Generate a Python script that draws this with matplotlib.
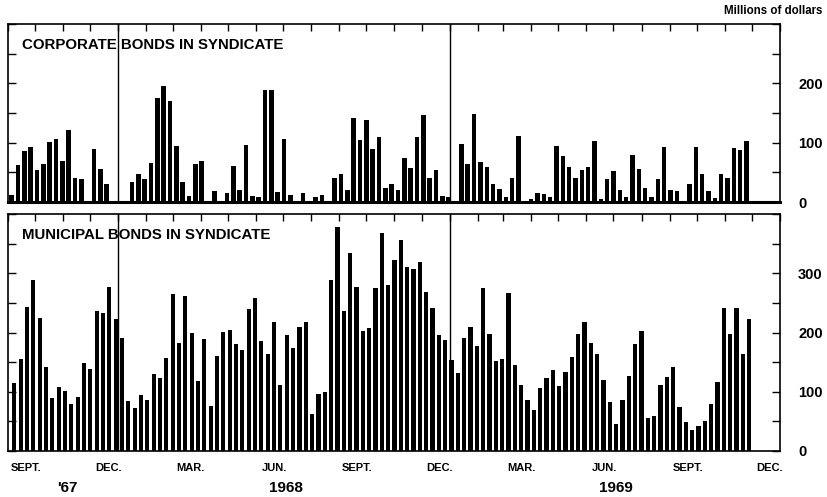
import matplotlib

matplotlib.use("Agg")
import matplotlib.pyplot as plt
import matplotlib.dates as mdates
from matplotlib.ticker import FixedLocator, MultipleLocator, NullFormatter
import pandas as pd

# ----------------------------------------------------------------------
# Data (weekly, millions of dollars)
# ----------------------------------------------------------------------
corporate = [
    12, 62, 86, 93, 54, 64, 101, 106, 69, 122, 41, 39, 0, 89, 55, 30,
    0, 0, 0, 34, 47, 39, 65, 176, 196, 170, 95, 33, 10, 64, 69, 0,
    19, 0, 16, 61, 20, 96, 10, 8, 189, 189, 17, 106, 12, 0, 16, 0,
    8, 12, 0, 41, 48, 20, 142, 104, 138, 90, 110, 24, 30, 20, 74, 58,
    109, 147, 40, 54, 10, 9, 0, 98, 64, 149, 68, 59, 30, 22, 8, 41,
    112, 0, 5, 15, 13, 8, 94, 78, 59, 41, 54, 59, 103, 5, 38, 52,
    20, 9, 79, 56, 24, 8, 38, 93, 21, 18, 0, 30, 92, 47, 18, 6,
    48, 40, 91, 88, 103,
]
municipal = [
    114, 156, 243, 289, 224, 142, 89, 108, 102, 79, 91, 148, 139, 236, 233, 277,
    222, 191, 84, 72, 94, 86, 130, 124, 157, 265, 182, 262, 200, 118, 189, 76,
    160, 201, 205, 181, 170, 240, 258, 185, 164, 218, 111, 195, 173, 209, 217, 62,
    97, 100, 288, 378, 237, 334, 277, 202, 208, 275, 368, 281, 323, 356, 310, 308,
    319, 268, 241, 195, 187, 154, 131, 191, 209, 177, 275, 197, 152, 156, 267, 145,
    112, 86, 69, 107, 124, 136, 110, 134, 159, 198, 217, 182, 164, 119, 82, 45,
    86, 127, 181, 203, 55, 59, 111, 125, 142, 74, 49, 36, 42, 50, 80, 117,
    242, 198, 242, 164, 223,
]
corp_start = "1967-09-05"
muni_start = "1967-09-08"

month_labels = ["SEPT.", "DEC.", "MAR.", "JUN.", "SEPT.", "DEC.", "MAR.", "JUN.", "SEPT.", "DEC."]
month_starts = ["1967-09-01", "1967-12-01", "1968-03-01", "1968-06-01", "1968-09-01",
                "1968-12-01", "1969-03-01", "1969-06-01", "1969-09-01", "1969-12-01"]
year_labels = ["'67", "1968", "1969"]
year_pos = ["1967-11-06", "1968-07-04", "1969-07-04"]
divider_dates = ["1968-01-01", "1969-01-01"]
data_end = "1969-12-01"

FONT = "Liberation Sans"

corp_dates = pd.date_range(corp_start, periods=len(corporate), freq="7D")
muni_dates = pd.date_range(muni_start, periods=len(municipal), freq="7D")
xmin, xmax = pd.Timestamp("1967-09-01"), pd.Timestamp("1970-01-01")

W, H = 827, 497
fig = plt.figure(figsize=(W / 100, H / 100), dpi=100)
ax_c = fig.add_axes([8 / W, 1 - 202 / H, 772 / W, 178 / H])
ax_m = fig.add_axes([8 / W, 1 - 451 / H, 772 / W, 237 / H])


def style_panel(ax, top, majors, title, title_y):
    ax.set_xlim(xmin, xmax)
    ax.set_ylim(0, top)
    for d in divider_dates:
        ax.axvline(pd.Timestamp(d), color="black", linewidth=1.0, zorder=1)

    # monthly ticks along the top edge, a single end marker at the bottom
    ax.xaxis.set_major_locator(mdates.MonthLocator())
    ax.xaxis.set_minor_locator(FixedLocator([mdates.date2num(pd.Timestamp(data_end))]))
    ax.xaxis.set_major_formatter(NullFormatter())
    ax.xaxis.set_minor_formatter(NullFormatter())
    ax.tick_params(axis="x", which="major", top=True, bottom=False, direction="in",
                   length=5, width=1.0, color="black")
    ax.tick_params(axis="x", which="minor", top=False, bottom=True, direction="in",
                   length=8, width=1.0, color="black")

    ax.yaxis.set_major_locator(FixedLocator(majors))
    ax.yaxis.set_minor_locator(MultipleLocator(50))
    ax.tick_params(axis="y", which="both", left=True, right=True, direction="in",
                   length=6, width=1.0, labelleft=False, labelright=True, pad=13)
    for lab in ax.get_yticklabels():
        lab.set_fontfamily(FONT)
        lab.set_fontweight("bold")
        lab.set_fontsize(10.5)

    for sp in ax.spines.values():
        sp.set_linewidth(1.2)
        sp.set_color("black")

    ax.text(0.018, title_y, title, transform=ax.transAxes, ha="left", va="center",
            fontsize=10.8, fontweight="bold", family=FONT, zorder=5)


ax_c.bar(corp_dates, corporate, width=5.0, color="black", linewidth=0, zorder=2)
ax_m.bar(muni_dates, municipal, width=4.6, color="black", linewidth=0, zorder=2)

style_panel(ax_c, 300, [0, 100, 200], "CORPORATE BONDS IN SYNDICATE", 0.882)
style_panel(ax_m, 400, [0, 100, 200, 300], "MUNICIPAL BONDS IN SYNDICATE", 0.911)
ax_c.spines["bottom"].set_linewidth(2.2)

xf = ax_m.get_xaxis_transform()
for lab, d in zip(month_labels, month_starts):
    ax_m.text(pd.Timestamp(d) + pd.Timedelta(days=20), -0.07, lab, transform=xf,
              ha="center", va="center", fontsize=8, fontweight="bold", family=FONT,
              clip_on=False)
for lab, d in zip(year_labels, year_pos):
    ax_m.text(pd.Timestamp(d), -0.157, lab, transform=xf, ha="center", va="center",
              fontsize=11, fontweight="bold", family=FONT, clip_on=False)

fig.text(0.994, 1 - 11 / H, "Millions of dollars", ha="right", va="center",
         fontsize=8.3, fontweight="bold", family=FONT)

fig.savefig("out.png", dpi=100, facecolor="white")
plt.close(fig)
